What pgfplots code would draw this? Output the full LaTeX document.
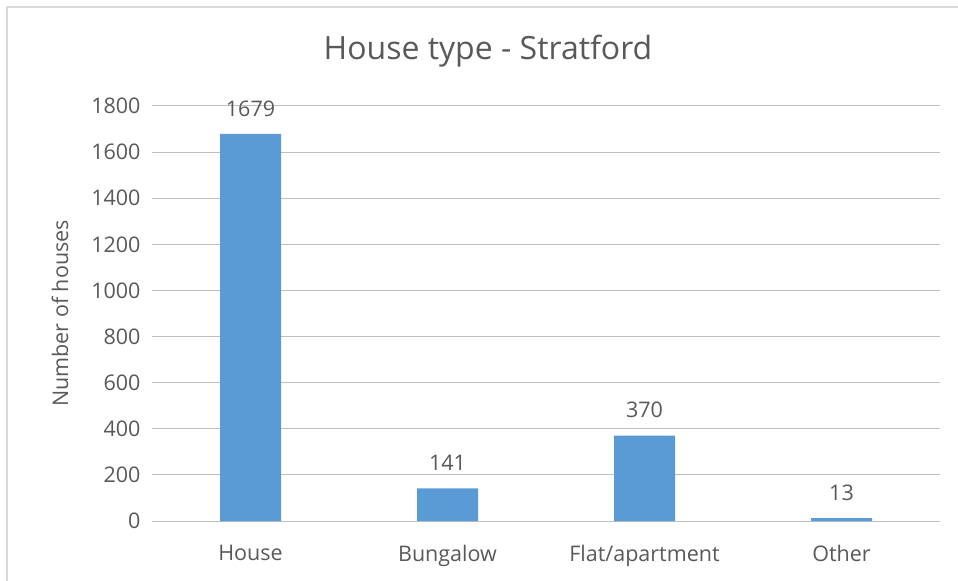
\documentclass[border=0pt]{standalone}
\usepackage{pgfplots}
\pgfplotsset{compat=1.18}
\usepackage{fontspec}
\setmainfont{Open Sans}
\definecolor{bar}{HTML}{5B9BD5}
\definecolor{txt}{HTML}{595959}
\definecolor{grid}{HTML}{D9D9D9}
\begin{document}
\begin{tikzpicture}
\useasboundingbox (0,0) rectangle (958bp,581bp);
% chart frame (top and left edges visible)
\draw[grid, line width=1.5bp] (7bp,0) -- (7bp,574bp) -- (958bp,574bp);
\node[txt, font=\fontsize{32bp}{38bp}\selectfont] at (488bp,530bp) {House type - Stratford};
\begin{axis}[
    at={(152bp,60bp)}, anchor=south west,
    scale only axis,
    width=788bp, height=415bp,
    xmin=-0.5, xmax=3.5,
    ymin=0, ymax=1800,
    ytick={0,200,...,1800},
    xtick=data,
    xticklabels={House, Bungalow, Flat/apartment, Other},
    axis line style={draw=none},
    xmajorgrids=false,
    ymajorgrids=true,
    grid style={grid, line width=1bp},
    tick style={draw=none},
    tick label style={txt, font=\fontsize{21.5bp}{26bp}\selectfont},
    /pgf/number format/assume math mode=true,
    /pgf/number format/1000 sep={},
    yticklabel style={xshift=-8bp},
    xticklabel style={yshift=-16bp},
    ylabel={Number of houses},
    every axis y label/.style={at={(rel axis cs:0,0.5)}, rotate=90, anchor=center,
        yshift=92bp, txt, font=\fontsize{21.5bp}{26bp}\selectfont},
    ybar, bar width=61bp,
    nodes near coords,
    every node near coord/.append style={txt, font=\fontsize{21.5bp}{26bp}\selectfont, yshift=14bp},
    clip=false,
]
\addplot[fill=bar, draw=none] coordinates {(0,1679) (1,141) (2,370) (3,13)};
\end{axis}
\end{tikzpicture}
\end{document}
